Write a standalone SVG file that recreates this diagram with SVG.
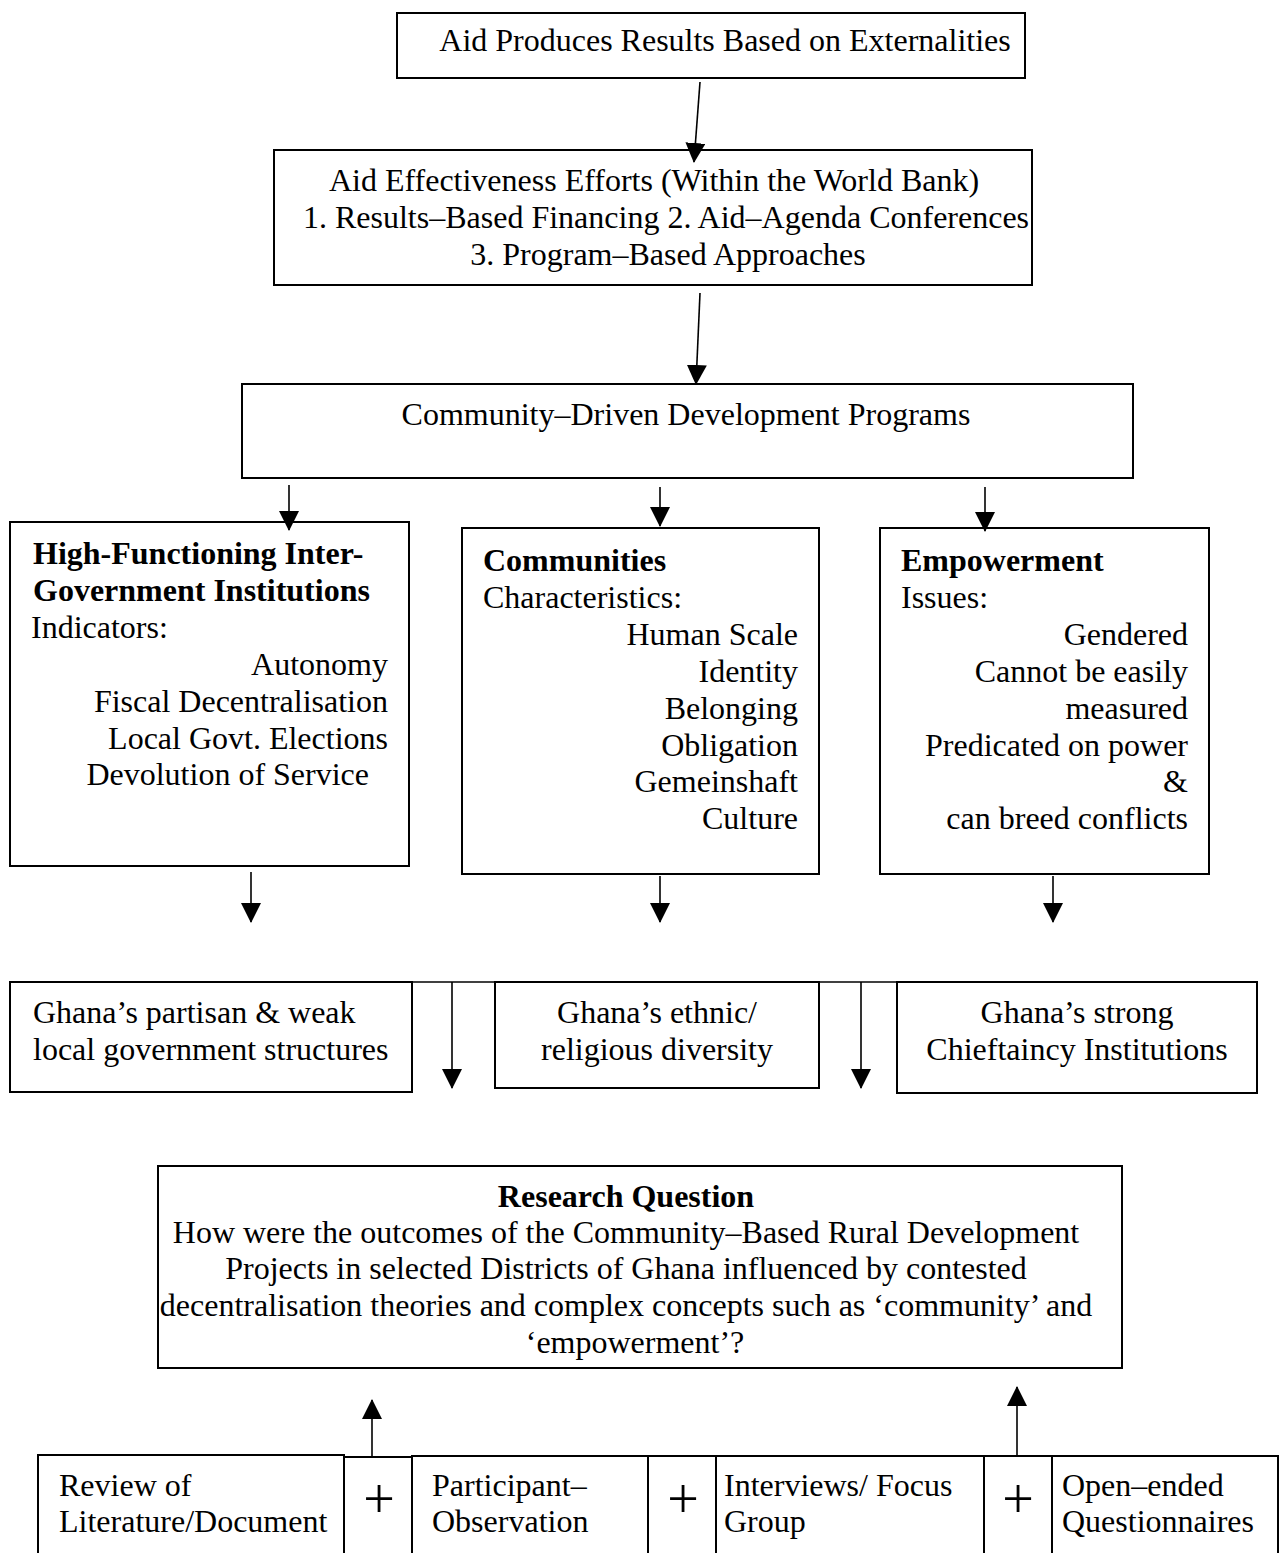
<svg xmlns="http://www.w3.org/2000/svg" width="1283" height="1553" viewBox="0 0 1283 1553">
<style>
.box{fill:#fff;stroke:#000;stroke-width:2}
text{font-family:"Liberation Serif","Times New Roman",serif;font-size:32px;fill:#000}
.b{font-weight:bold}
.m{text-anchor:middle}
.r{text-anchor:end}
.c{stroke:#000;stroke-width:1.6;fill:none}
.plus{font-size:56px;text-anchor:middle}
</style>
<defs>
<marker id="ah" markerUnits="userSpaceOnUse" markerWidth="20" markerHeight="20" viewBox="0 0 20 20" refX="19" refY="10" orient="auto">
<path d="M0,0 L20,10 L0,20 Z" fill="#000"/>
</marker>
</defs>
<rect width="1283" height="1553" fill="#fff"/>

<g id="n-aid-produces">
<rect class="box" x="397" y="13" width="628" height="65"/>
<text class="m" x="725" y="51">Aid Produces Results Based on Externalities</text>
</g>

<g id="n-aid-effectiveness">
<rect class="box" x="274" y="150" width="758" height="135"/>
<text class="m" x="654" y="191">Aid Effectiveness Efforts (Within the World Bank)</text>
<text class="m" x="666" y="228">1. Results–Based Financing 2. Aid–Agenda Conferences</text>
<text class="m" x="668" y="265">3. Program–Based Approaches</text>
</g>

<g id="n-cdd">
<rect class="box" x="242" y="384" width="891" height="94"/>
<text class="m" x="686" y="425">Community–Driven Development Programs</text>
</g>

<g id="n-institutions">
<rect class="box" x="10" y="522" width="399" height="344"/>
<text class="b" x="33" y="564">High-Functioning Inter-</text>
<text class="b" x="33" y="601">Government Institutions</text>
<text x="31" y="638">Indicators:</text>
<text class="r" x="388" y="675">Autonomy</text>
<text class="r" x="388" y="712">Fiscal Decentralisation</text>
<text class="r" x="388" y="749">Local Govt. Elections</text>
<text class="r" x="369" y="785">Devolution of Service</text>
</g>

<g id="n-communities">
<rect class="box" x="462" y="528" width="357" height="346"/>
<text class="b" x="483" y="571">Communities</text>
<text x="483" y="608">Characteristics:</text>
<text class="r" x="798" y="645">Human Scale</text>
<text class="r" x="798" y="682">Identity</text>
<text class="r" x="798" y="719">Belonging</text>
<text class="r" x="798" y="756">Obligation</text>
<text class="r" x="798" y="792">Gemeinshaft</text>
<text class="r" x="798" y="829">Culture</text>
</g>

<g id="n-empowerment">
<rect class="box" x="880" y="528" width="329" height="346"/>
<text class="b" x="901" y="571">Empowerment</text>
<text x="901" y="608">Issues:</text>
<text class="r" x="1188" y="645">Gendered</text>
<text class="r" x="1188" y="682">Cannot be easily</text>
<text class="r" x="1188" y="719">measured</text>
<text class="r" x="1188" y="756">Predicated on power</text>
<text class="r" x="1188" y="792">&amp;</text>
<text class="r" x="1188" y="829">can breed conflicts</text>
</g>

<g id="n-ghana-partisan">
<rect class="box" x="10" y="982" width="402" height="110"/>
<text x="33" y="1023">Ghana’s partisan &amp; weak</text>
<text x="33" y="1060">local government structures</text>
</g>

<g id="n-ghana-ethnic">
<rect class="box" x="495" y="982" width="324" height="106"/>
<text class="m" x="657" y="1023">Ghana’s ethnic/</text>
<text class="m" x="657" y="1060">religious diversity</text>
</g>

<g id="n-ghana-chieftaincy">
<rect class="box" x="897" y="982" width="360" height="111"/>
<text class="m" x="1077" y="1023">Ghana’s strong</text>
<text class="m" x="1077" y="1060">Chieftaincy Institutions</text>
</g>

<g id="n-research-question">
<rect class="box" x="158" y="1166" width="964" height="202"/>
<text class="m b" x="626" y="1207">Research Question</text>
<text class="m" x="626" y="1243">How were the outcomes of the Community–Based Rural Development</text>
<text class="m" x="626" y="1279">Projects in selected Districts of Ghana influenced by contested</text>
<text class="m" x="626" y="1316">decentralisation theories and complex concepts such as ‘community’ and</text>
<text class="m" x="635" y="1353">‘empowerment’?</text>
</g>

<g id="n-review">
<rect class="box" x="38" y="1455" width="306" height="115"/>
<text x="59" y="1496">Review of</text>
<text x="59" y="1532">Literature/Document</text>
</g>
<g id="n-plus-1">
<rect class="box" x="344" y="1457" width="68" height="115"/>
<text class="plus" x="379" y="1518">+</text>
</g>
<g id="n-participant">
<rect class="box" x="412" y="1456" width="236" height="115"/>
<text x="432" y="1496">Participant–</text>
<text x="432" y="1532">Observation</text>
</g>
<g id="n-plus-2">
<rect class="box" x="648" y="1456" width="68" height="115"/>
<text class="plus" x="683" y="1518">+</text>
</g>
<g id="n-interviews">
<rect class="box" x="716" y="1456" width="268" height="115"/>
<text x="724" y="1496">Interviews/ Focus</text>
<text x="724" y="1532">Group</text>
</g>
<g id="n-plus-3">
<rect class="box" x="984" y="1456" width="68" height="115"/>
<text class="plus" x="1018" y="1518">+</text>
</g>
<g id="n-questionnaires">
<rect class="box" x="1052" y="1456" width="226" height="115"/>
<text x="1062" y="1496">Open–ended</text>
<text x="1062" y="1532">Questionnaires</text>
</g>

<g id="connectors">
<path class="c" d="M700,82 L694,162" marker-end="url(#ah)"/>
<path class="c" d="M700,293 L696,384" marker-end="url(#ah)"/>
<path class="c" d="M289,485 L289,530" marker-end="url(#ah)"/>
<path class="c" d="M660,487 L660,526" marker-end="url(#ah)"/>
<path class="c" d="M985,487 L985,531" marker-end="url(#ah)"/>
<path class="c" d="M251,872 L251,922" marker-end="url(#ah)"/>
<path class="c" d="M660,876 L660,922" marker-end="url(#ah)"/>
<path class="c" d="M1053,876 L1053,922" marker-end="url(#ah)"/>
<path class="c" d="M397,982 L921,982" stroke-width="2"/>
<path class="c" d="M452,982 L452,1088" marker-end="url(#ah)"/>
<path class="c" d="M861,982 L861,1088" marker-end="url(#ah)"/>
<path class="c" d="M372,1456 L372,1400" marker-end="url(#ah)"/>
<path class="c" d="M1017,1455 L1017,1387" marker-end="url(#ah)"/>
</g>
</svg>
